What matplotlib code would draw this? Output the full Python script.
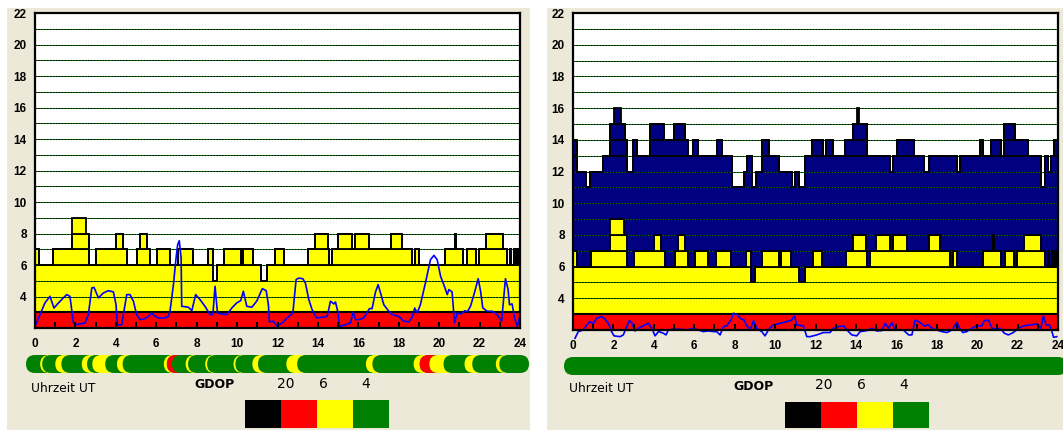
import numpy as np
import matplotlib
matplotlib.use('Agg')
from matplotlib import pyplot as plt
from matplotlib.patches import FancyBboxPatch, Rectangle

W, H = 1063, 430
BEIGE = '#ECE9D8'
GREEN = '#008000'
NAVY = '#000080'

# satellites in view (GPS), step edges in hours UT
gps_t = [0, 0.21, 0.87, 1.82, 2.51, 2.67, 3.02, 4.01, 4.34, 4.54, 5.03, 5.20, 5.53, 5.69,
         6.02, 6.68, 7.10, 7.84, 8.55, 8.83, 9.03, 9.37, 10.18, 10.31, 10.81, 11.17, 11.50,
         11.88, 12.34, 13.51, 13.84, 14.50, 14.57, 14.70, 15.00, 15.69, 15.82, 16.52, 17.64,
         18.17, 18.66, 18.79, 18.99, 20.31, 20.77, 20.84, 21.19, 21.39, 21.80, 21.96, 22.33,
         23.15, 23.37, 23.52, 23.57, 23.68, 23.73, 23.84, 23.89, 24]
gps_n = [7, 6, 7, 9, 8, 6, 7, 8, 7, 6, 7, 8, 7, 6, 7, 6, 7, 6, 7, 5, 6, 7, 6, 7, 6, 5, 6, 7, 6, 7,
         8, 7, 6, 7, 8, 7, 8, 7, 8, 7, 6, 7, 6, 7, 8, 7, 6, 7, 6, 7, 8, 7, 6, 7, 6, 7, 6, 7, 6]

# satellites in view (GPS + GLONASS)
all_t = [0, 0.21, 0.64, 0.84, 1.47, 1.83, 2.03, 2.36, 2.57, 2.69, 2.95, 3.18, 3.81, 4.50, 5.00,
         5.54, 5.68, 5.96, 6.20, 7.11, 7.36, 7.85, 8.46, 8.63, 8.84, 9.06, 9.34, 9.72, 10.18,
         10.82, 10.99, 11.20, 11.48, 11.81, 12.36, 12.52, 12.89, 13.47, 13.85, 14.04, 14.17,
         14.54, 15.69, 15.83, 16.02, 16.88, 17.35, 17.64, 19.00, 19.13, 20.15, 20.31, 20.68,
         21.20, 21.35, 21.88, 22.51, 23.15, 23.36, 23.50, 23.65, 23.80, 24]
all_n = [14, 12, 11, 12, 13, 15, 16, 15, 14, 12, 14, 13, 15, 14, 15, 14, 13, 14, 13, 14, 13, 11,
         12, 13, 11, 12, 14, 13, 12, 11, 12, 11, 13, 14, 13, 14, 13, 14, 15, 16, 15, 13, 12, 13,
         14, 13, 12, 13, 12, 13, 14, 13, 14, 13, 15, 14, 13, 11, 13, 12, 13, 14]

# GDOP, GPS only
gdop1_t = [0.05, 0.25, 0.49, 0.74, 0.94, 1.16, 1.40, 1.57, 1.73, 1.90, 2.06, 2.48, 2.64, 2.81,
           2.92, 3.14, 3.38, 3.63, 3.88, 4.01, 4.08, 4.29, 4.54, 4.70, 4.87, 5.03, 5.20, 5.45,
           5.61, 5.78, 5.94, 6.11, 6.44, 6.60, 6.68, 6.85, 6.98, 7.06, 7.14, 7.23, 7.26, 7.59,
           7.76, 7.95, 8.17, 8.41, 8.66, 8.80, 8.91, 9.03, 9.24, 9.49, 9.74, 9.98, 10.18, 10.31,
           10.48, 10.73, 10.97, 11.25, 11.44, 11.55, 11.60, 11.80, 11.98, 12.23, 12.56, 12.76,
           12.92, 13.05, 13.25, 13.38, 13.55, 13.71, 13.93, 14.21, 14.46, 14.62, 14.79, 14.87,
           14.98, 15.07, 15.28, 15.61, 15.74, 15.86, 16.02, 16.27, 16.55, 16.68, 16.85, 16.98,
           17.10, 17.26, 17.51, 17.67, 18.00, 18.25, 18.50, 18.66, 18.79, 18.91, 19.07, 19.32,
           19.57, 19.74, 19.90, 20.07, 20.23, 20.40, 20.48, 20.64, 20.76, 20.89, 21.06, 21.27,
           21.39, 21.55, 21.72, 21.93, 22.05, 22.16, 22.38, 22.63, 22.87, 23.09, 23.28, 23.41,
           23.48, 23.61, 23.73, 23.86, 23.98]
gdop1_v = [2.26, 2.85, 3.59, 4.01, 3.27, 3.59, 3.91, 4.12, 4.01, 2.32, 2.22, 2.32, 2.85, 4.54,
           4.58, 3.91, 4.22, 4.37, 4.29, 3.48, 2.17, 2.22, 4.12, 4.12, 3.70, 2.85, 2.53, 2.60,
           2.74, 2.95, 2.74, 2.64, 2.64, 2.74, 3.06, 4.75, 6.44, 7.29, 7.54, 6.44, 3.38, 3.32,
           3.10, 4.12, 3.80, 3.38, 2.85, 2.85, 4.65, 2.95, 2.89, 2.85, 3.27, 3.59, 3.74, 4.33,
           3.38, 3.32, 3.70, 4.50, 4.37, 3.48, 2.39, 2.43, 2.11, 2.32, 2.74, 2.95, 5.07, 5.17,
           5.13, 4.86, 3.80, 3.17, 2.64, 2.68, 2.74, 3.70, 3.53, 3.65, 3.06, 2.11, 2.17, 2.32,
           3.02, 2.53, 2.53, 2.64, 3.23, 3.23, 4.29, 4.75, 4.22, 3.48, 3.06, 2.85, 2.74, 2.43,
           2.39, 2.68, 3.27, 2.95, 3.48, 4.86, 6.34, 6.61, 6.34, 5.28, 4.75, 4.12, 4.44, 4.29,
           2.32, 2.95, 2.89, 3.10, 3.02, 3.38, 4.12, 5.13, 4.33, 3.27, 3.06, 3.06, 2.85, 2.43,
           5.13, 4.44, 3.48, 3.53, 2.64, 2.11, 2.64]

# GDOP, GPS + GLONASS
gdop2_t = [0.10, 0.26, 0.51, 0.68, 0.84, 1.01, 1.17, 1.42, 1.58, 1.75, 1.91, 2.03, 2.33, 2.49,
           2.66, 2.79, 2.90, 3.07, 3.23, 3.40, 3.56, 3.73, 3.90, 4.06, 4.23, 4.47, 4.60, 4.72,
           4.97, 5.30, 5.63, 5.96, 6.20, 6.45, 6.70, 6.95, 7.11, 7.28, 7.44, 7.61, 7.81, 7.94,
           8.13, 8.27, 8.46, 8.63, 8.79, 8.93, 9.09, 9.34, 9.50, 9.72, 9.92, 10.25, 10.58, 10.82,
           10.96, 11.07, 11.40, 11.57, 11.73, 12.06, 12.39, 12.72, 12.89, 13.13, 13.39, 13.55,
           13.80, 14.04, 14.21, 14.54, 14.79, 15.03, 15.28, 15.45, 15.61, 15.78, 15.94, 16.35,
           16.61, 16.77, 16.93, 17.10, 17.38, 17.59, 17.76, 18.00, 18.25, 18.50, 18.75, 19.00,
           19.13, 19.29, 19.49, 19.74, 19.98, 20.23, 20.35, 20.56, 20.73, 20.97, 21.14, 21.34,
           21.54, 21.79, 22.04, 22.29, 22.62, 22.98, 23.15, 23.28, 23.41, 23.58, 23.70, 23.78,
           23.94]
gdop2_v = [1.48, 1.90, 2.00, 2.32, 2.53, 2.42, 2.74, 2.85, 2.68, 2.42, 1.90, 1.63, 1.58, 1.69,
           2.21, 2.59, 2.47, 1.94, 2.11, 2.21, 2.32, 2.42, 2.11, 1.63, 1.90, 1.80, 1.69, 2.00,
           2.05, 2.05, 2.00, 2.11, 2.00, 1.90, 1.94, 1.90, 1.90, 1.69, 2.21, 2.26, 2.63, 3.06,
           2.95, 2.74, 2.63, 2.21, 2.05, 2.59, 2.11, 1.90, 1.63, 2.11, 2.32, 2.42, 2.53, 2.63,
           2.89, 2.32, 2.26, 1.58, 1.58, 1.69, 1.84, 1.84, 2.11, 2.21, 2.26, 2.00, 1.69, 1.63,
           1.90, 1.96, 2.11, 1.94, 1.96, 2.42, 2.11, 2.47, 2.00, 2.00, 1.69, 1.69, 2.63, 2.53,
           2.26, 2.32, 2.11, 2.00, 1.90, 1.84, 2.00, 2.47, 2.11, 1.84, 1.90, 2.11, 2.26, 2.26,
           2.59, 2.63, 2.11, 2.05, 2.11, 1.80, 1.69, 1.84, 2.11, 2.26, 2.32, 2.38, 2.11, 2.89,
           2.32, 2.32, 1.90, 1.54, 1.58]

# GDOP bar: hours where GDOP is above 4 (yellow) or above 6 (red)
bar1 = [(0.70, 0.80, 'yellow'), (1.45, 1.75, 'yellow'), (2.76, 3.02, 'yellow'),
        (3.28, 3.92, 'yellow'), (4.50, 4.78, 'yellow'), (6.82, 6.97, 'yellow'),
        (6.97, 7.22, 'red'), (7.90, 8.02, 'yellow'), (8.87, 8.96, 'yellow'),
        (10.27, 10.36, 'yellow'), (11.20, 11.48, 'yellow'), (12.88, 13.42, 'yellow'),
        (16.82, 17.14, 'yellow'), (19.18, 19.48, 'yellow'), (19.48, 19.96, 'red'),
        (19.96, 20.66, 'yellow'), (21.70, 22.08, 'yellow'), (23.25, 23.42, 'yellow')]
bar2 = []

legend_cols = ['black', 'red', 'yellow', GREEN]
legend_vals = ['20', '6', '4']


def frect(x0, y0, x1, y1):
    # pixel box (top-left origin) -> figure fraction rect
    return [x0 / W, 1 - y1 / H, (x1 - x0) / W, (y1 - y0) / H]


def plot_panel(fig, box, gdop_t, gdop_v, extra=None):
    ax = fig.add_axes(frect(*box))
    ax.set_xlim(0, 24)
    ax.set_ylim(2, 22)
    ax.set_facecolor('white')
    ax.set_axisbelow(False)
    if extra is not None:
        et, en = extra
        ax.stairs(en, et, baseline=3, fill=True, color=NAVY, lw=0, zorder=0.6)
    ax.stairs(gps_n, gps_t, baseline=3, fill=True, color='yellow', lw=0, zorder=0.7)
    for lev in range(3, 22):
        ax.axhline(lev, color=GREEN, lw=0.7, zorder=0.8)
        ax.axhline(lev, color='black', lw=0.7, ls=(0, (1.5, 1.5)), zorder=0.81)
    ax.axhspan(2, 3, color='red', lw=0, zorder=0.9)
    ax.axhline(3, color='black', lw=1.5, zorder=1.0)
    for lev in range(6, max(gps_n) + 1):
        ax.stairs(np.minimum(gps_n, lev), gps_t, baseline=None, color='black', lw=1.3, zorder=1.1)
    if extra is not None:
        for lev in range(13, max(en) + 1):
            ax.stairs(np.minimum(en, lev), et, baseline=None, color='black', lw=1.3, zorder=1.1)
    ax.plot(gdop_t, gdop_v, color='blue', lw=1.2, zorder=1.5, clip_on=extra is None)

    ax.set_xticks(range(0, 25, 2))
    ax.set_xticks(range(25), minor=True)
    ax.set_yticks(range(4, 23, 2))
    ax.tick_params(axis='x', which='both', direction='in', length=4, width=1.4, pad=7)
    ax.tick_params(axis='y', length=0, pad=6)
    for lab in ax.get_xticklabels() + ax.get_yticklabels():
        lab.set_fontfamily('Liberation Sans')
        lab.set_fontweight('bold')
        lab.set_fontsize(8.5)
    for s in ax.spines.values():
        s.set_linewidth(1.6)
    return ax


def draw_bar(fig, box, x0_px, runs):
    # rounded GDOP bar; each run drawn as a capsule so later runs overlap earlier ones
    pxph = 485 / 24.
    ax = fig.add_axes(frect(*box))
    ax.set_xlim((box[0] - x0_px) / pxph, (box[2] - x0_px) / pxph)
    ax.set_ylim(0, 1)
    ax.axis('off')
    hpx = box[3] - box[1]
    r = hpx / 2. / pxph
    asp = (1. / hpx) / (1. / pxph)

    def capsule(a, b, col):
        ax.add_patch(FancyBboxPatch((a - r, 0), (b - a) + 2 * r, 1,
                                    boxstyle='round,pad=0,rounding_size=%f' % r,
                                    mutation_aspect=asp, fc=col, ec='none', clip_on=False))
    start = 0
    for a, b, col in runs:
        capsule(start, a, GREEN)
        capsule(a, b, col)
        start = b
    capsule(start, 24, GREEN)


def draw_legend(fig, x_text, y_text, x_gdop, x_vals, x_box, y_box):
    fig.text(x_text / W, 1 - y_text / H, 'Uhrzeit UT', fontsize=8.8, va='center')
    fig.text(x_gdop / W, 1 - (y_text - 3) / H, 'GDOP', fontsize=9, fontweight='bold', va='center')
    for xv, v in zip(x_vals, legend_vals):
        fig.text(xv / W, 1 - (y_text - 4) / H, v, fontsize=10, va='center')
    bw = 36
    for i, c in enumerate(legend_cols):
        fig.add_artist(Rectangle(((x_box + i * bw) / W, 1 - y_box[1] / H), bw / W,
                                 (y_box[1] - y_box[0]) / H, transform=fig.transFigure,
                                 fc=c, ec='none'))


fig = plt.figure(figsize=(W / 100., H / 100.), dpi=100)
fig.patch.set_facecolor('white')
fig.add_artist(Rectangle((7 / W, 0), 523 / W, 1 - 8 / H, transform=fig.transFigure,
                         fc=BEIGE, ec='none', zorder=0))
fig.add_artist(Rectangle((547 / W, 0), 516 / W, 1 - 8 / H, transform=fig.transFigure,
                         fc=BEIGE, ec='none', zorder=0))

plot_panel(fig, (35, 13, 520, 328), gdop1_t, gdop1_v)
plot_panel(fig, (573, 13, 1058, 330), gdop2_t, gdop2_v, extra=(all_t, all_n))

draw_bar(fig, (26, 355, 529, 373), 35, bar1)
draw_bar(fig, (564, 357, 1063, 375), 573, bar2)

draw_legend(fig, 31, 388, 194, [277, 319, 361], 245, (400, 428))
draw_legend(fig, 569, 389, 733, [815, 857, 899], 785, (402, 428))

plt.savefig('out.png', dpi=100)
plt.close('all')
